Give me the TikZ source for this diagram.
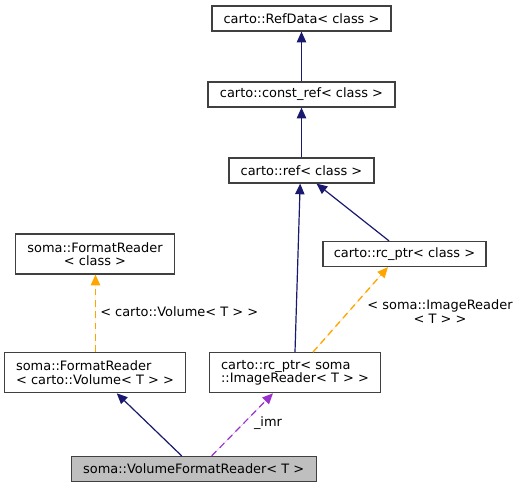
\documentclass[tikz,border=0pt]{standalone}
\usepackage{fontspec}
\setmainfont{DejaVu Sans}
\usetikzlibrary{arrows.meta}
\definecolor{edgeNavy}{HTML}{191970}
\definecolor{edgeOrange}{HTML}{FFA500}
\definecolor{edgePurple}{HTML}{9A32CD}
\tikzset{
  classBox/.style={draw=black!75, line width=0.9pt, fill=white, inner sep=0pt,
    font=\fontsize{9.7}{10}\selectfont, minimum height=18.75pt},
  twoLine/.style={classBox, minimum height=30pt},
  inhArrow/.style={draw=edgeNavy, line width=0.9pt, -{Triangle[length=8pt,width=7pt]}},
  tplArrow/.style={draw=edgeOrange, fill=edgeOrange, line width=1pt, dash pattern=on 5pt off 3.5pt,
    -{Triangle[length=8pt,width=7pt]}},
  useArrow/.style={draw=edgePurple, fill=edgePurple, line width=0.9pt, dash pattern=on 5pt off 3.5pt,
    -{Triangle[length=8pt,width=7pt]}},
  edgeLabel/.style={font=\fontsize{9.7}{10}\selectfont, inner sep=0pt}
}
\begin{document}
\begin{tikzpicture}[x=0.75pt, y=-0.75pt]
  \useasboundingbox (0, 0) rectangle (519, 488);
  % classes
  \node[classBox, minimum width=134.25pt] (refData) at (301.5, 18.5) {carto::RefData< class >};
  \node[classBox, minimum width=140.25pt] (constRef) at (301.5, 94.5) {carto::const\_ref< class >};
  \node[classBox, minimum width=108.75pt] (cartoRef) at (301.5, 170.5) {carto::ref< class >};
  \node[classBox, minimum width=122.25pt] (rcPtr) at (404.5, 254) {carto::rc\_ptr< class >};
  \node[twoLine, align=center, minimum width=119.25pt] (fmtReader) at (95, 254) {soma::FormatReader\\< class >};
  \node[twoLine, align=left, minimum width=135.5pt] (fmtVolume) at (95, 372.7) {soma::FormatReader\\< carto::Volume< T > >};
  \node[twoLine, align=left, minimum width=128.25pt] (rcImage) at (295, 372.7) {carto::rc\_ptr< soma\\::ImageReader< T > >};
  \node[classBox, fill=black!25, minimum width=183.75pt] (volReader) at (193.7, 469) {soma::VolumeFormatReader< T >};
  % inheritance
  \draw[inhArrow] (constRef) -- (refData);
  \draw[inhArrow] (cartoRef) -- (constRef);
  \draw[inhArrow] (rcImage.north) -- ([xshift=-1pt]cartoRef.south);
  \draw[inhArrow] ([xshift=-11.6pt]rcPtr.north) -- ([xshift=11.25pt]cartoRef.south);
  \draw[inhArrow] ([xshift=-9pt]volReader.north) -- ([xshift=16.3pt]fmtVolume.south);
  % template instances
  \draw[tplArrow] ([xshift=0.375pt]fmtVolume.north) -- ([xshift=0.375pt]fmtReader.south);
  \node[edgeLabel, anchor=west] (lblVolume) at (100, 312) {< carto::Volume< T > >};
  \draw[tplArrow] ([xshift=13.5pt]rcImage.north) -- ([xshift=-12.4pt]rcPtr.south);
  \node[edgeLabel, align=center] (lblImage) at (440, 311.7) {< soma::ImageReader\\< T > >};
  % usage
  \draw[useArrow] ([xshift=13.5pt]volReader.north) -- ([xshift=-16.5pt]rcImage.south);
  \node[edgeLabel] (lblImr) at (268, 423) {\_imr};
\end{tikzpicture}
\end{document}
